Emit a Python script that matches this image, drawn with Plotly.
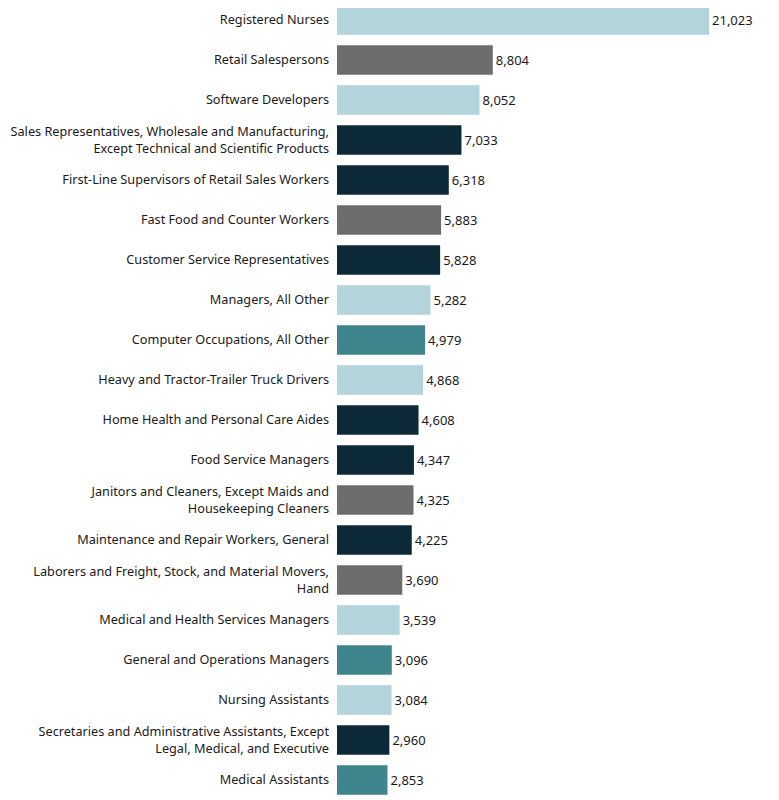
import plotly.graph_objects as go

categories = [
    "Registered Nurses",
    "Retail Salespersons",
    "Software Developers",
    "Sales Representatives, Wholesale and Manufacturing,<br>Except Technical and Scientific Products",
    "First-Line Supervisors of Retail Sales Workers",
    "Fast Food and Counter Workers",
    "Customer Service Representatives",
    "Managers, All Other",
    "Computer Occupations, All Other",
    "Heavy and Tractor-Trailer Truck Drivers",
    "Home Health and Personal Care Aides",
    "Food Service Managers",
    "Janitors and Cleaners, Except Maids and<br>Housekeeping Cleaners",
    "Maintenance and Repair Workers, General",
    "Laborers and Freight, Stock, and Material Movers,<br>Hand",
    "Medical and Health Services Managers",
    "General and Operations Managers",
    "Nursing Assistants",
    "Secretaries and Administrative Assistants, Except<br>Legal, Medical, and Executive",
    "Medical Assistants",
]
values = [21023, 8804, 8052, 7033, 6318, 5883, 5828, 5282, 4979, 4868,
          4608, 4347, 4325, 4225, 3690, 3539, 3096, 3084, 2960, 2853]
groups = ["light", "grey", "light", "dark", "dark", "grey", "dark", "light", "teal", "light",
          "dark", "dark", "grey", "dark", "grey", "light", "teal", "light", "dark", "teal"]

palette = {"light": "#B3D4DA", "grey": "#6D6D6D", "dark": "#0B2937", "teal": "#3F858D"}
colors = [palette[g] for g in groups]
labels = [f"{v:,}" for v in values]

FONT = "Noto Sans, sans-serif"

fig = go.Figure(go.Bar(
    x=values, y=categories, orientation="h",
    marker=dict(color=colors, line=dict(width=0)),
    text=labels, textposition="outside", cliponaxis=False,
    textfont=dict(family=FONT, size=13, color="#1a1a1a"),
    hoverinfo="skip",
))

fig.update_layout(
    width=779, height=800,
    margin=dict(l=329, r=0, t=0, b=0, autoexpand=False),
    paper_bgcolor="white", plot_bgcolor="white",
    bargap=0.26,
    showlegend=False,
    font=dict(family=FONT, size=12.7, color="#1a1a1a"),
    xaxis=dict(range=[0, 25431], visible=False, fixedrange=True, automargin=False),
    yaxis=dict(range=[19.7, -0.3], showgrid=False, zeroline=False, showline=False,
               ticks="", ticklabelstandoff=7, fixedrange=True, automargin=False,
               tickfont=dict(family=FONT, size=12.7, color="#1a1a1a")),
)

fig.write_html("out.html")
